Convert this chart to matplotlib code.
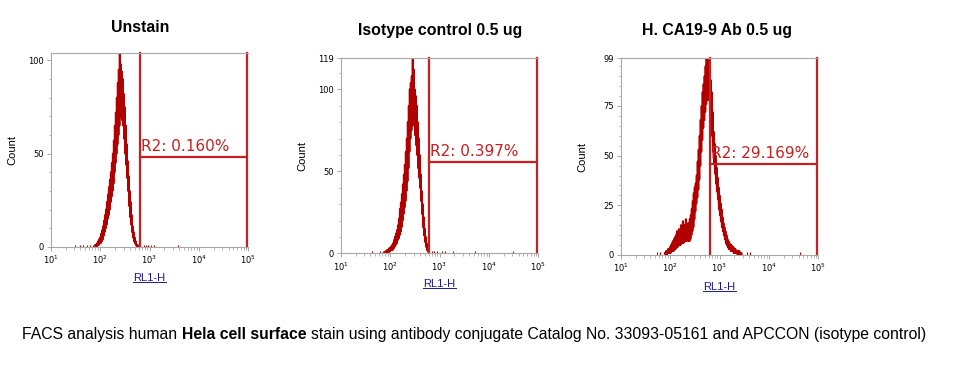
import matplotlib
matplotlib.use("Agg")
import matplotlib.pyplot as plt
import numpy as np
from matplotlib.lines import Line2D
from matplotlib.ticker import FixedLocator, LogLocator, NullFormatter, FuncFormatter

# histogram channels, log10 of RL1-H, spacing 0.02 decade
step = 0.02

unstain_start = 1.90
unstain_hi = [1, 1, 2, 3, 4, 5, 7, 9, 11, 14, 17, 20, 24, 28, 32, 36, 40, 45, 50, 57,
              65, 72, 80, 88, 95, 104, 98, 94, 90, 82, 75, 65, 55, 46, 38, 30, 24, 17,
              11, 8, 5, 3, 1, 1]
unstain_lo = [0, 0, 1, 1, 2, 2, 3, 4, 6, 8, 10, 12, 15, 17, 20, 24, 27, 30, 34, 40,
              45, 50, 55, 60, 65, 70, 72, 68, 65, 58, 50, 44, 37, 30, 22, 16, 12, 8,
              5, 3, 2, 1, 0, 0]
unstain_events = [1.49, 1.59, 1.66, 1.73, 1.80, 1.86, 2.88, 2.93, 2.97, 3.04, 3.10, 3.58]

isotype_start = 1.90
isotype_hi = [1, 1, 2, 2, 3, 3, 4, 5, 6, 8, 10, 12, 14, 17, 21, 27, 31, 36, 42, 48,
              54, 62, 70, 80, 90, 100, 104, 108, 119, 112, 100, 96, 90, 80, 70, 60, 48,
              38, 30, 22, 15, 10, 6, 3, 1]
isotype_lo = [0, 0, 1, 1, 1, 2, 2, 2, 3, 4, 5, 6, 8, 9, 11, 13, 16, 20, 24, 28,
              32, 38, 44, 52, 62, 70, 75, 78, 80, 78, 72, 66, 60, 52, 46, 40, 32,
              24, 16, 11, 7, 4, 2, 1, 0]
isotype_events = [1.63, 1.80, 1.86, 2.84, 2.88, 2.95, 3.05, 3.12, 3.28, 3.72, 4.49]

ca199_start = 1.90
ca199_hi = [1, 2, 2, 3, 3, 4, 5, 6, 7, 8, 9, 10, 12, 11, 13, 12, 15, 13, 17, 14,
            15, 18, 16, 15, 16, 18, 20, 23, 27, 31, 34, 36, 40, 47, 53, 60, 68, 75,
            82, 86, 90, 95, 99, 99, 99, 92, 88, 82, 72, 62, 56, 50, 44, 39, 34, 30,
            26, 23, 19, 16, 14, 12, 10, 8, 7, 6, 5, 5, 4, 4, 3, 3, 2, 2, 2, 2, 1, 1]
ca199_lo = [0, 0, 1, 1, 1, 1, 2, 2, 2, 3, 3, 4, 4, 5, 5, 5, 6, 6, 6, 7,
            7, 7, 8, 7, 7, 8, 10, 12, 14, 18, 22, 26, 29, 33, 38, 45, 52, 58,
            64, 68, 72, 76, 78, 80, 78, 70, 66, 60, 52, 46, 41, 36, 32, 28, 23, 20,
            17, 14, 12, 10, 8, 6, 5, 4, 3, 3, 2, 2, 2, 1, 1, 1, 1, 0, 0, 0, 0, 0]
ca199_events = [1.73, 1.80, 3.55, 3.62, 4.63]

titles = ["Unstain", "Isotype control 0.5 ug", "H. CA19-9 Ab 0.5 ug"]
gate_labels = ["R2: 0.160%", "R2: 0.397%", "R2: 29.169%"]
gate_left = [2.81, 2.79, 2.81]
gate_right = [4.97, 4.97, 4.97]
gate_level = [48.2, 55.9, 45.8]
y_top = [104, 119, 99]
y_ticks = [[0, 50, 100], [0, 50, 100, 119], [0, 25, 50, 75, 99]]
y_minor = [10, 10, 5]

caption_parts = [("FACS analysis human", "normal"), ("Hela cell surface", "bold"),
                 ("stain using antibody conjugate Catalog No. 33093-05161 and APCCON (isotype control)", "normal")]

W, H = 963, 382
fig = plt.figure(figsize=(W / 100, H / 100), dpi=100)

# axes boxes in pixels: left, bottom(from top), width, height
boxes = [(50.7, 247.0, 197.6, 194.0), (340.7, 253.3, 197.6, 195.0), (620.7, 255.0, 197.6, 196.7)]
title_pos = [(140, 27), (440, 30), (717, 30)]
xlab_off = [-0.132, -0.133, -0.137]

hists = [(unstain_start, unstain_hi, unstain_lo, unstain_events),
         (isotype_start, isotype_hi, isotype_lo, isotype_events),
         (ca199_start, ca199_hi, ca199_lo, ca199_events)]

hist_col = "#b00000"
gate_col = "#c62020"
grey = "#a8a8a8"

axes = []
for i, (start, hi, lo, ev) in enumerate(hists):
    l, b, w, h = boxes[i]
    ax = fig.add_axes([l / W, (H - b) / H, w / W, h / H])
    axes.append(ax)

    # zigzag between hi and lo values of each channel
    n = len(hi)
    pos = start + step * np.arange(n)
    xs = np.column_stack([pos, pos + step / 2]).ravel()
    ys = np.column_stack([hi, lo]).ravel()
    ax.plot(10 ** xs, ys, color=hist_col, lw=1.5)
    ax.vlines(10 ** np.array(ev), 0, 1.3, color=hist_col, lw=0.8)

    # gate R2
    gl, gr, gy = gate_left[i], gate_right[i], gate_level[i]
    ax.plot([10 ** gl, 10 ** gl], [0, y_top[i]], color=gate_col, lw=1.6, clip_on=False)
    ax.plot([10 ** gr, 10 ** gr], [0, y_top[i]], color=gate_col, lw=1.6, clip_on=False)
    ax.plot([10 ** gl, 10 ** gr], [gy, gy], color=gate_col, lw=1.6)
    ax.text(10 ** (gl + 0.02), gy + 1.5, gate_labels[i], color=gate_col, fontsize=11,
            family="DejaVu Sans", va="bottom", ha="left")

    ax.set_xscale("log")
    ax.set_xlim(10, 1e5)
    ax.set_ylim(0, y_top[i])
    ax.xaxis.set_major_locator(FixedLocator([10, 100, 1000, 1e4, 1e5]))
    ax.xaxis.set_major_formatter(FuncFormatter(lambda v, p: r"$10^{%d}$" % round(np.log10(v))))
    ax.xaxis.set_minor_locator(LogLocator(base=10, subs=np.arange(2, 10)))
    ax.xaxis.set_minor_formatter(NullFormatter())
    ax.set_yticks(y_ticks[i])
    ax.yaxis.set_minor_locator(FixedLocator(np.arange(0, y_top[i], y_minor[i])))

    for s in ["left", "bottom", "top"]:
        ax.spines[s].set_color(grey)
        ax.spines[s].set_linewidth(0.8)
    ax.spines["right"].set_visible(False)
    ax.tick_params(which="major", length=3, width=0.7, color=grey, labelsize=6, pad=2)
    ax.tick_params(which="minor", length=1.8, width=0.6, color=grey)

    ax.set_ylabel("Count", fontsize=8, family="Liberation Sans")
    ax.yaxis.set_label_coords(-0.17, 0.5)
    ax.set_xlabel("RL1-H", fontsize=8, family="Liberation Sans", color="#1c1c8a")
    ax.xaxis.set_label_coords(0.5, xlab_off[i])

    tx, ty = title_pos[i]
    fig.text(tx / W, 1 - ty / H, titles[i], ha="center", va="center", fontsize=11.4,
             weight="bold", family="Liberation Sans")

fig.canvas.draw()
renderer = fig.canvas.get_renderer()

# underline the axis labels
for ax in axes:
    bb = ax.xaxis.label.get_window_extent(renderer)
    yl = (bb.y0 + 1) / H
    fig.add_artist(Line2D([bb.x0 / W, bb.x1 / W], [yl, yl], color="#1c1c8a", lw=0.7))

# caption with a bold middle part
cap_size = 11.3
space = 0.3 * cap_size * 100 / 72
x = 22
for txt, wt in caption_parts:
    t = fig.text(x / W, 1 - 339 / H, txt, fontsize=cap_size, weight=wt,
                 family="Liberation Sans", va="baseline", ha="left")
    bb = t.get_window_extent(renderer)
    x = bb.x1 + space

fig.savefig("out.png", dpi=100)
